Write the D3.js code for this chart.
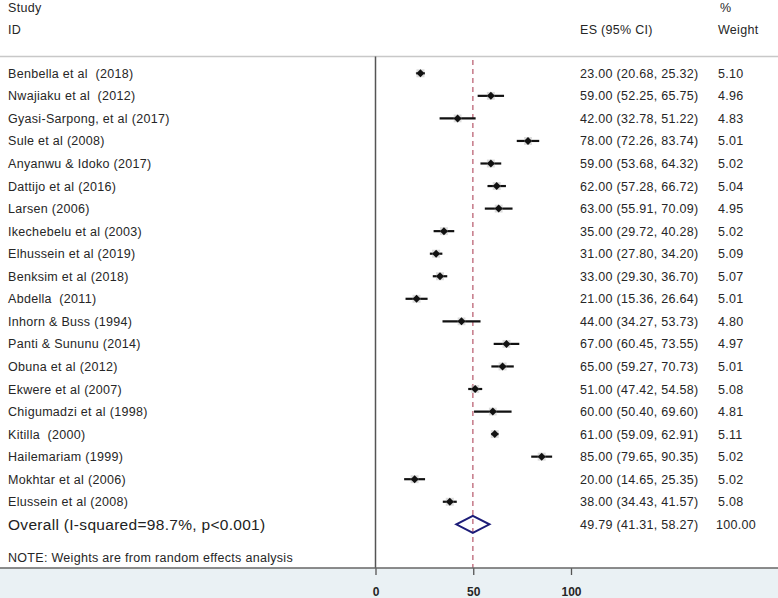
<!DOCTYPE html>
<html><head><meta charset="utf-8">
<script src="https://cdn.jsdelivr.net/npm/d3@7"></script>
<style>body{margin:0;background:#fff;}svg{display:block;font-family:Arial,"Liberation Sans",sans-serif;}text{white-space:pre;}</style>
</head><body>
<script>
const studies = ["Benbella et al  (2018)","Nwajiaku et al  (2012)","Gyasi-Sarpong, et al (2017)","Sule et al (2008)","Anyanwu & Idoko (2017)","Dattijo et al (2016)","Larsen (2006)","Ikechebelu et al (2003)","Elhussein et al (2019)","Benksim et al (2018)","Abdella  (2011)","Inhorn & Buss (1994)","Panti & Sununu (2014)","Obuna et al (2012)","Ekwere et al (2007)","Chigumadzi et al (1998)","Kitilla  (2000)","Hailemariam (1999)","Mokhtar et al (2006)","Elussein et al (2008)"];
const es    = [23,59,42,78,59,62,63,35,31,33,21,44,67,65,51,60,61,85,20,38];
const lower = [20.68,52.25,32.78,72.26,53.68,57.28,55.91,29.72,27.80,29.30,15.36,34.27,60.45,59.27,47.42,50.40,59.09,79.65,14.65,34.43];
const upper = [25.32,65.75,51.22,83.74,64.32,66.72,70.09,40.28,34.20,36.70,26.64,53.73,73.55,70.73,54.58,69.60,62.91,90.35,25.35,41.57];
const weights = [5.10,4.96,4.83,5.01,5.02,5.04,4.95,5.02,5.09,5.07,5.01,4.80,4.97,5.01,5.08,4.81,5.11,5.02,5.02,5.08];
const overall = {label:"Overall (I-squared=98.7%, p<0.001)", es:49.79, lower:41.31, upper:58.27, weight:100.00};
const xTicks = [0,50,100];
const note = "NOTE: Weights are from random effects analysis";

const W=778,H=598;
const svg=d3.select("body").append("svg").attr("width",W).attr("height",H);
const txt="#262626";
const FS=12.5, LS=0.3;

const x=d3.scaleLinear().domain([0,100]).range([375.5,571]);
const rows=d3.range(studies.length+1);
const y=d3.scalePoint().domain(rows).range([73.3,524.3]);
const axisY=568;

function T(sel,xx,yy,s,opts={}){
  return sel.append("text").attr("x",xx).attr("y",yy).attr("dy","0.36em")
    .attr("font-size",opts.fs||FS).attr("letter-spacing",opts.ls!=null?opts.ls:LS)
    .attr("fill",opts.fill||txt).attr("xml:space","preserve").text(s);
}

// bottom band
svg.append("rect").attr("x",0).attr("y",axisY).attr("width",W).attr("height",H-axisY).attr("fill","#eaf1f4");
// header line
svg.append("line").attr("x1",0).attr("x2",W).attr("y1",56.5).attr("y2",56.5).attr("stroke","#c8c8c8").attr("stroke-width",1.5);

// header text
T(svg,8,7,"Study");
T(svg,8,29,"ID");
T(svg,580,29,"ES (95% CI)");
T(svg,720,7,"%");
T(svg,718,29,"Weight");

// vertical null line
svg.append("line").attr("x1",x(0)).attr("x2",x(0)).attr("y1",56.5).attr("y2",axisY).attr("stroke","#555").attr("stroke-width",1.5);
// overall dashed line
svg.append("line").attr("x1",x(overall.es)).attr("x2",x(overall.es)).attr("y1",60).attr("y2",axisY)
  .attr("stroke","#c9808f").attr("stroke-width",1.6).attr("stroke-dasharray","5,4");

// axis
const ax=svg.append("g").attr("transform",`translate(0,${axisY})`)
  .call(d3.axisBottom(x).tickValues(xTicks).tickSize(7).tickPadding(12).tickFormat(d3.format("d")));
ax.select(".domain").remove();
ax.selectAll(".tick line").attr("stroke","#555").attr("stroke-width",1.3);
ax.selectAll(".tick text").attr("font-size",12).attr("font-weight","bold").attr("fill",txt).attr("font-family","Arial,'Liberation Sans',sans-serif");
svg.append("line").attr("x1",0).attr("x2",W).attr("y1",axisY).attr("y2",axisY).attr("stroke","#666").attr("stroke-width",1.3);

// study rows
const g=svg.append("g");
studies.forEach((s,i)=>{
  const yy=y(i);
  T(g,8,yy,s);
  g.append("line").attr("x1",x(lower[i])).attr("x2",x(upper[i])).attr("y1",yy).attr("y2",yy).attr("stroke","#111").attr("stroke-width",2.2);
  const bs=3.9+weights[i]*0.8;
  g.append("rect").attr("x",x(es[i])-bs/2).attr("y",yy-bs/2).attr("width",bs).attr("height",bs).attr("fill","#bbb").attr("opacity",0.5);
  const r=4;
  g.append("path").attr("d",`M${x(es[i])-r},${yy}L${x(es[i])},${yy-r}L${x(es[i])+r},${yy}L${x(es[i])},${yy+r}Z`).attr("fill","#111");
  T(g,580,yy,`${es[i].toFixed(2)} (${lower[i].toFixed(2)}, ${upper[i].toFixed(2)})`);
  T(g,718,yy,weights[i].toFixed(2));
});

// overall
const oy=y(studies.length);
T(g,8,oy,overall.label,{fs:15.5,fill:"#222"});
g.append("path").attr("d",`M${x(overall.lower)},${oy}L${x(overall.es)},${oy-8.5}L${x(overall.upper)},${oy}L${x(overall.es)},${oy+8.5}Z`)
  .attr("fill","none").attr("stroke","#1c1c78").attr("stroke-width",2);
T(g,580,oy,`${overall.es.toFixed(2)} (${overall.lower.toFixed(2)}, ${overall.upper.toFixed(2)})`);
T(g,716,oy,overall.weight.toFixed(2));

// note
T(svg,8,557,note);
</script>
</body></html>
